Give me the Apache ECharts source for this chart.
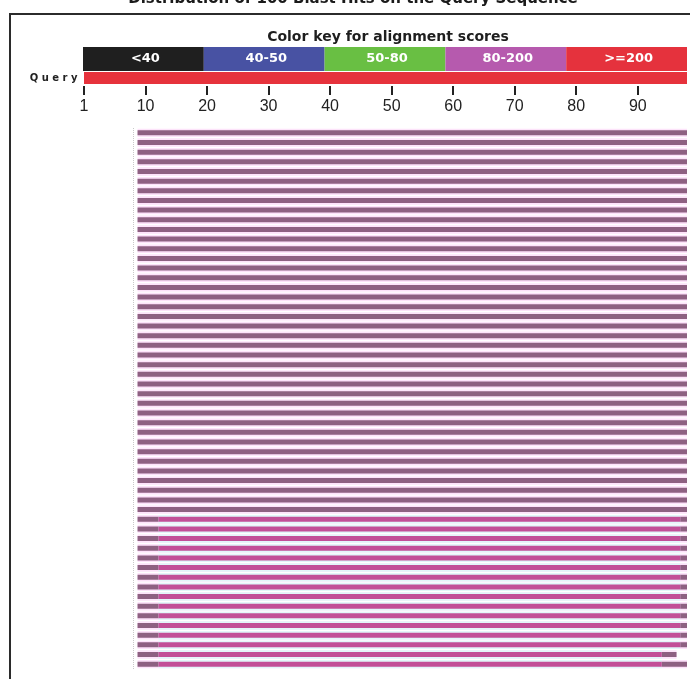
<!DOCTYPE html>
<html>
<head>
<meta charset="utf-8">
<script src="https://cdn.jsdelivr.net/npm/echarts@6/dist/echarts.min.js"></script>
<style>
  html, body { margin: 0; padding: 0; background: #ffffff; }
  #chart { width: 690px; height: 679px; }
</style>
</head>
<body>
<div id="chart"></div>
<script>
// Score classes shown in the colour key
const keyLabels = ['<40', '40-50', '50-80', '80-200', '>=200'];

// Query sequence and its ruler
const queryName = 'Query';
const queryLength = 98;
const tickValues = [0, 10, 20, 30, 40, 50, 60, 70, 80, 90];
const tickLabels = ['1', '10', '20', '30', '40', '50', '60', '70', '80', '90'];

// Aligned span of each hit on the query (one entry per row, top to bottom)
const hitFrom = [
  8.7, 8.7, 8.7, 8.7, 8.7, 8.7, 8.7, 8.7, 8.7, 8.7,
  8.7, 8.7, 8.7, 8.7, 8.7, 8.7, 8.7, 8.7, 8.7, 8.7,
  8.7, 8.7, 8.7, 8.7, 8.7, 8.7, 8.7, 8.7, 8.7, 8.7,
  8.7, 8.7, 8.7, 8.7, 8.7, 8.7, 8.7, 8.7, 8.7, 8.7,
  8.7, 8.7, 8.7, 8.7, 8.7, 8.7, 8.7, 8.7, 8.7, 8.7,
  8.7, 8.7, 8.7, 8.7, 8.7, 8.7
];
const hitTo = [
  98, 98, 98, 98, 98, 98, 98, 98, 98, 98,
  98, 98, 98, 98, 98, 98, 98, 98, 98, 98,
  98, 98, 98, 98, 98, 98, 98, 98, 98, 98,
  98, 98, 98, 98, 98, 98, 98, 98, 98, 98,
  98, 98, 98, 98, 98, 98, 98, 98, 98, 98,
  98, 98, 98, 98, 96.3, 98
];
// Highlighted stretch inside the lower hits ('-' = none)
const highlightFrom = [
  '-', '-', '-', '-', '-', '-', '-', '-', '-', '-',
  '-', '-', '-', '-', '-', '-', '-', '-', '-', '-',
  '-', '-', '-', '-', '-', '-', '-', '-', '-', '-',
  '-', '-', '-', '-', '-', '-', '-', '-', '-', '-',
  12.1, 12.1, 12.1, 12.1, 12.1, 12.1, 12.1, 12.1, 12.1, 12.1,
  12.1, 12.1, 12.1, 12.1, 12.1, 12.1
];
const highlightTo = [
  '-', '-', '-', '-', '-', '-', '-', '-', '-', '-',
  '-', '-', '-', '-', '-', '-', '-', '-', '-', '-',
  '-', '-', '-', '-', '-', '-', '-', '-', '-', '-',
  '-', '-', '-', '-', '-', '-', '-', '-', '-', '-',
  96.9, 96.9, 96.9, 96.9, 96.9, 96.9, 96.9, 96.9, 96.9, 96.9,
  96.9, 96.9, 96.9, 96.9, 93.9, 93.9
];

// Palette
const keyColors = ['#1f1f1f', '#4852a3', '#69bf43', '#b65aae', '#e5323d'];
const queryColor = '#e6323c';
const hitColor = '#8e6182';
const hitBand = '#fde3fa';
const highlightColor = '#c24f98';
const highlightBand = '#e2f6fa';

const keyData = keyLabels.map((label, i) => [i, label]);
const hitData = hitFrom.map((f, i) => [i, f, hitTo[i], highlightFrom[i], highlightTo[i]]);

const chart = echarts.init(document.getElementById('chart'), null, { renderer: 'canvas' });

const SANS = '"Liberation Sans", Arial, sans-serif';
const WIDE = '"DejaVu Sans", Verdana, sans-serif';

// spaced-out query label: one rich segment per letter
const spacedQuery = queryName.split('').map(ch => '{l|' + ch + '}').join('');

chart.setOption({
  animation: false,
  backgroundColor: '#ffffff',
  graphic: [
    {
      type: 'rect',
      silent: true,
      shape: { x: 10, y: 14, width: 720, height: 720 },
      style: { fill: 'none', stroke: '#2b2b2b', lineWidth: 2 }
    },
    {
      type: 'text',
      silent: true,
      x: 353, y: -1,
      style: {
        text: 'Distribution of 100 Blast Hits on the Query Sequence',
        font: 'bold 15px ' + WIDE,
        fill: '#1a1a1a',
        align: 'center',
        verticalAlign: 'middle'
      }
    },
    {
      type: 'text',
      silent: true,
      x: 388, y: 37,
      style: {
        text: 'Color key for alignment scores',
        font: 'bold 14px ' + WIDE,
        fill: '#1e1e1e',
        align: 'center',
        verticalAlign: 'middle'
      }
    }
  ],
  grid: [
    { id: 'key', left: 83, width: 604, top: 47, height: 24 },
    { id: 'query', left: 84, width: 603, top: 72, height: 12 },
    { id: 'hits', left: 84, width: 603, top: 128, height: 541 }
  ],
  xAxis: [
    { gridIndex: 0, type: 'value', min: 0, max: keyLabels.length, show: false },
    {
      gridIndex: 1, type: 'value', min: 0, max: queryLength, position: 'bottom', offset: 2,
      axisLine: { show: false },
      splitLine: { show: false },
      axisTick: {
        show: true, customValues: tickValues, length: 9, inside: false,
        lineStyle: { color: '#222222', width: 2 }
      },
      axisLabel: {
        show: true, customValues: tickValues, margin: 13,
        fontSize: 16, fontFamily: SANS, color: '#222222',
        formatter: v => tickLabels[tickValues.indexOf(v)]
      }
    },
    { gridIndex: 2, type: 'value', min: 0, max: queryLength, show: false }
  ],
  yAxis: [
    { gridIndex: 0, type: 'value', min: 0, max: 1, show: false },
    {
      gridIndex: 1, type: 'category', data: [queryName],
      axisLine: { show: false }, axisTick: { show: false }, splitLine: { show: false },
      axisLabel: {
        margin: 3,
        formatter: () => spacedQuery,
        rich: {
          l: {
            fontSize: 10, fontWeight: 'bold', fontFamily: WIDE, color: '#222222',
            padding: [0, 3.5, 0, 0]
          }
        }
      }
    },
    { gridIndex: 2, type: 'value', min: -0.5, max: hitFrom.length - 0.5, inverse: true, show: false }
  ],
  series: [
    {
      // colour key strip
      type: 'custom',
      xAxisIndex: 0, yAxisIndex: 0,
      data: keyData,
      silent: true,
      renderItem: (params, api) => {
        const i = api.value(0);
        const a = api.coord([i, 1]);
        const b = api.coord([i + 1, 0]);
        return {
          type: 'group',
          children: [
            {
              type: 'rect',
              shape: { x: a[0], y: a[1], width: b[0] - a[0], height: b[1] - a[1] },
              style: { fill: keyColors[i] }
            },
            {
              type: 'text',
              x: (a[0] + b[0]) / 2 + 2, y: (a[1] + b[1]) / 2,
              style: {
                text: keyLabels[i],
                font: 'bold 13px ' + WIDE,
                fill: '#ffffff',
                align: 'center',
                verticalAlign: 'middle'
              }
            }
          ]
        };
      }
    },
    {
      // query bar
      type: 'bar',
      xAxisIndex: 1, yAxisIndex: 1,
      data: [queryLength],
      barWidth: 12,
      silent: true,
      itemStyle: { color: queryColor }
    },
    {
      // hits
      type: 'custom',
      xAxisIndex: 2, yAxisIndex: 2,
      data: hitData,
      silent: true,
      renderItem: (params, api) => {
        const row = api.value(0);
        const from = api.value(1);
        const to = api.value(2);
        const hf = api.value(3);
        const ht = api.value(4);
        const p0 = api.coord([from, row]);
        const p1 = api.coord([to, row]);
        const bandH = 8.4;
        const barH = 5;
        const yc = p0[1];
        const children = [
          {
            type: 'rect',
            shape: { x: p0[0], y: yc - bandH / 2, width: p1[0] - p0[0], height: bandH },
            style: { fill: hitBand }
          },
          {
            type: 'rect',
            shape: { x: p0[0], y: yc - barH / 2, width: p1[0] - p0[0], height: barH },
            style: { fill: hitColor }
          }
        ];
        if (!isNaN(hf) && !isNaN(ht)) {
          const q0 = api.coord([hf, row]);
          const q1 = api.coord([ht, row]);
          children.push({
            type: 'rect',
            shape: { x: q0[0], y: yc - bandH / 2, width: q1[0] - q0[0], height: bandH },
            style: { fill: highlightBand }
          });
          children.push({
            type: 'rect',
            shape: { x: q0[0], y: yc - barH / 2, width: q1[0] - q0[0], height: barH },
            style: { fill: highlightColor }
          });
        }
        return { type: 'group', children };
      },
      markLine: {
        silent: true,
        symbol: 'none',
        label: { show: false },
        lineStyle: { type: 'dotted', color: '#c8c8c8', width: 1 },
        data: [{ xAxis: 7.95 }]
      }
    }
  ]
});
</script>
</body>
</html>
